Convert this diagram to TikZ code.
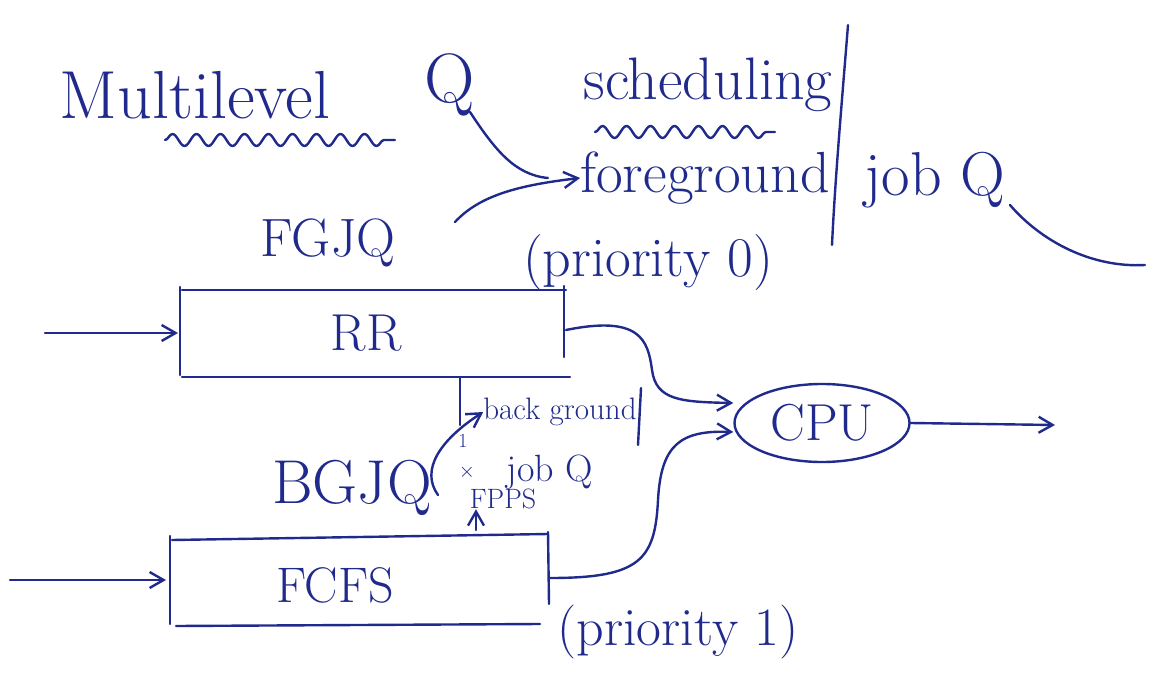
\documentclass[tikz,border=0pt]{standalone}
\usetikzlibrary{arrows.meta,decorations.pathmorphing,shapes.geometric}
\definecolor{ink}{RGB}{32,42,140}
\tikzset{
  ink/.style={draw=ink, line width=2.4pt, line cap=round, line join=round},
  arr/.style={ink, -{Straight Barb[length=14pt,width=16pt,line width=2.4pt]}},
  lbl/.style={text=ink, inner sep=0pt, anchor=center},
  queue/.style={ink},
  wavy/.style={ink, decorate, decoration={snake, amplitude=6pt, segment length=24pt}},
}
\newcommand{\fs}[1]{\fontsize{#1}{#1}\selectfont}
\begin{document}
\begin{tikzpicture}[x=1pt,y=-1pt]
\useasboundingbox (0,0) rectangle (1155,684);

% title
\node[lbl] (multi) at (195,95) {\fs{68}Multilevel};
\node[lbl] (qq) at (450,85) {\fs{70}Q};
\node[lbl] (sched) at (708,85) {\fs{60}scheduling};
\draw[wavy] (165,140) -- (395,140);
\draw[wavy] (595,132) -- (775,132);
\coordinate (qtail) at (548,178);
\draw[ink] (470,112) .. controls (495,150) and (515,175) .. (qtail);

% foreground annotation
\node[lbl] (fg) at (705,178) {\fs{58}foreground};
\draw[ink] (848,25) .. controls (842,100) and (835,180) .. (832,245);
\node[lbl] (jobq) at (935,180) {\fs{62}job Q};
\coordinate (jtail) at (1145,265);
\draw[ink] (1010,205) .. controls (1040,240) and (1090,268) .. (jtail);
\node[lbl] (prio0) at (648,263) {\fs{56}(priority 0)};

% foreground queue
\node[lbl] (fgjq) at (328,243) {\fs{54}FGJQ};
\draw[arr] (455,222) .. controls (480,195) and (520,185) .. (fg.west);
\coordinate (rrtl) at (182,290);
\coordinate (rrtr) at (566,290);
\coordinate (rrbl) at (182,377);
\coordinate (rrbr) at (570,377);
\draw[queue] (rrtl) -- (rrtr);
\draw[queue] (rrbl) -- (rrbr);
\draw[queue] (180,287) -- (180,375);
\draw[queue] (564,286) -- (564,357);
\node[lbl] (rr) at (366,333) {\fs{52}RR};
\coordinate (rrin) at (45,333);
\draw[arr] (rrin) -- (178,333);

% CPU
\node[ink, ellipse, minimum width=175pt, minimum height=78pt, lbl] (cpu) at (822,423) {\fs{52}CPU};
\coordinate (out) at (1055,425);
\draw[arr] (cpu.east) -- (out);
\draw[arr] (566,330) .. controls (640,315) and (648,340) .. (652,370)
  .. controls (656,400) and (680,402) .. (cpu.west |- 0,403);

% background annotation
\coordinate (rrdrop) at (460,425);
\draw[ink] (460,378) -- (rrdrop);
\node[lbl] (bg) at (560,412) {\fs{31}back ground};
\draw[ink] (641,388) -- (638,445);
\node[lbl] (bgjob) at (550,472) {\fs{38}job Q};
\node[lbl] (bgjq) at (352,488) {\fs{62}BGJQ};
\draw[arr] (438,495) .. controls (420,470) and (440,440) .. (bg.west);
\node[lbl] (one) at (463,441) {\fs{20}1};
\node[lbl] (cross) at (467,472) {\fs{22}$\times$};
\node[lbl] (fpps) at (503,499) {\fs{28}FPPS};

% background queue
\coordinate (fctl) at (172,540);
\coordinate (fctr) at (548,534);
\coordinate (fcbl) at (176,626);
\coordinate (fcbr) at (540,624);
\draw[queue] (fctl) -- (fctr);
\draw[queue] (fcbl) -- (fcbr);
\draw[queue] (170,536) -- (170,624);
\draw[queue] (548,532) -- (549,604);
\draw[arr] (476,530) -- (fpps.south -| 476,0);
\node[lbl] (fcfs) at (335,585) {\fs{50}FCFS};
\coordinate (fcin) at (10,580);
\draw[arr] (fcin) -- (166,580);
\draw[arr] (550,578) .. controls (640,578) and (655,560) .. (658,500)
  .. controls (661,445) and (680,430) .. (cpu.west |- 0,432);
\node[lbl] (prio1) at (678,632) {\fs{54}(priority 1)};
\end{tikzpicture}
\end{document}
